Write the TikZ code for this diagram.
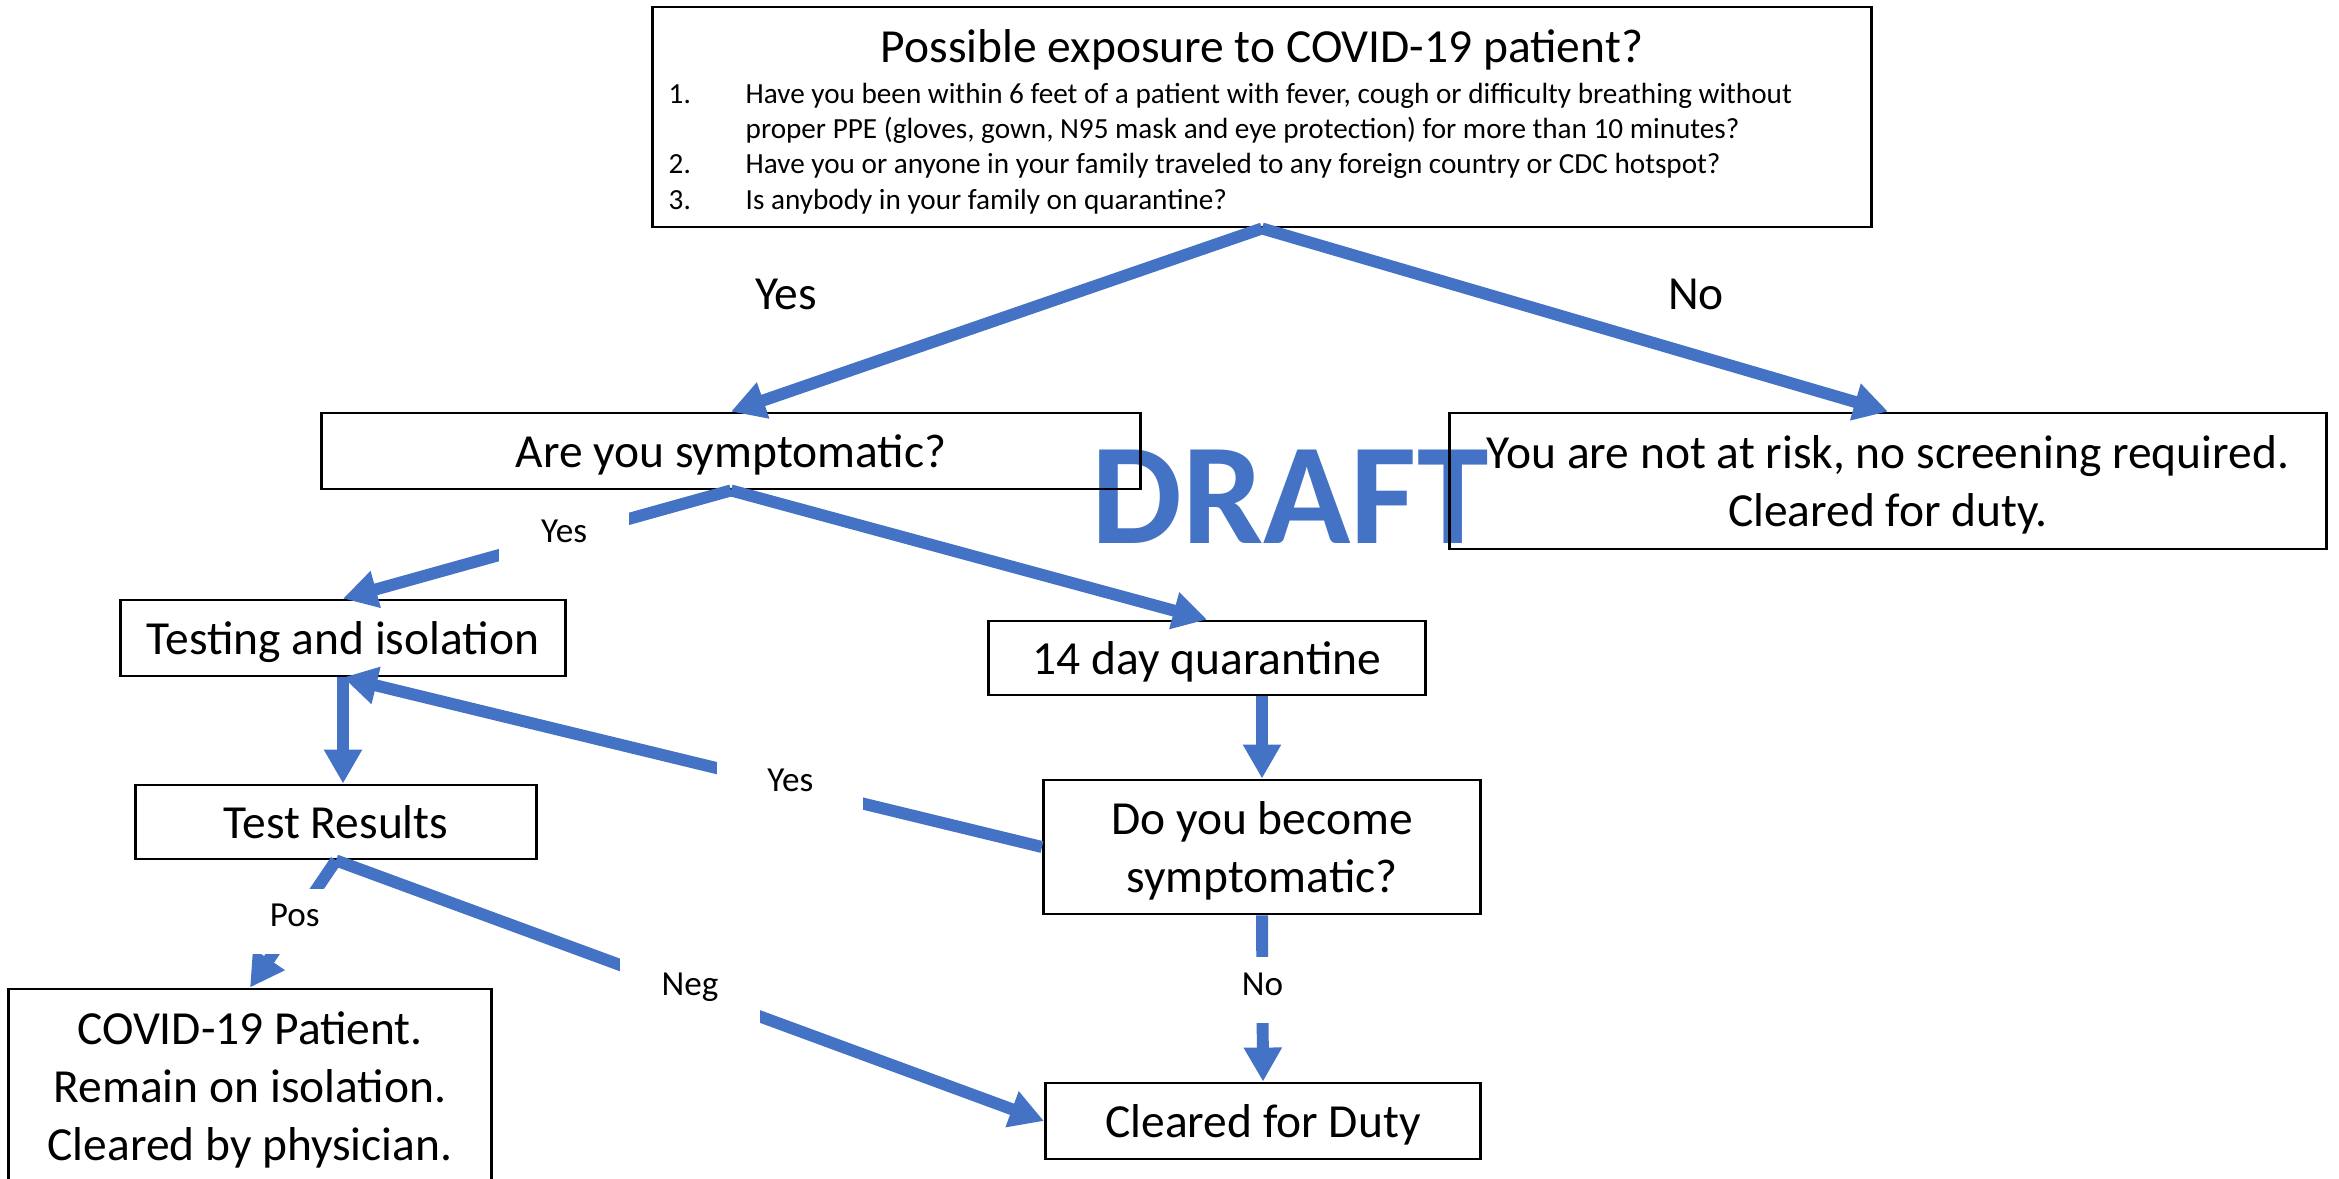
\documentclass[tikz,border=0pt]{standalone}
\usepackage{fontspec}
\setmainfont{Carlito}
\usetikzlibrary{arrows.meta}
\definecolor{flowblue}{HTML}{4472C4}
\tikzset{
  box/.style={draw=black,line width=0.8pt,inner sep=0pt,align=center,
    text depth=0pt,font=\fontsize{13.5}{16.6}\selectfont},
  flow/.style={draw=flowblue,line width=3.4pt,
    -{Triangle[length=3.4mm,width=3.6mm]}},
  lbl/.style={fill=white,inner xsep=0.42cm,inner ysep=0.17cm,
    text height=6pt,text depth=3pt,font=\fontsize{10}{12}\selectfont},
  item/.style={anchor=base west,inner sep=0pt,font=\fontsize{8.3}{10}\selectfont},
}

\begin{document}
\begin{tikzpicture}[x=0.01cm,y=-0.01cm]
\path[use as bounding box,clip] (0,0) rectangle (2339,1179);

% watermark first, boxes drawn over it
\node[text=flowblue,inner sep=0pt,font=\bfseries\fontsize{41}{41}\selectfont] (draft) at (1290,497) {DRAFT};

\node[box,minimum width=12.18cm,minimum height=2.2cm] (expo) at (1262,117) {};
\node[anchor=base,inner sep=0pt,font=\fontsize{13.5}{16}\selectfont] (expotitle) at (1262,63) {Possible exposure to COVID-19 patient?};
\node[item] (n1) at (668,104) {1.};
\node[item] (q1a) at (745,104) {Have you been within 6 feet of a patient with fever, cough or difficulty breathing without};
\node[item] (q1b) at (745,139) {proper PPE (gloves, gown, N95 mask and eye protection) for more than 10 minutes?};
\node[item] (n2) at (668,174) {2.};
\node[item] (q2) at (745,174) {Have you or anyone in your family traveled to any foreign country or CDC hotspot?};
\node[item] (n3) at (668,209) {3.};
\node[item] (q3) at (745,209) {Is anybody in your family on quarantine?};

\node[box,minimum width=8.19cm,minimum height=0.76cm] (sym) at (731,451) {Are you symptomatic?};
\node[box,minimum width=8.76cm,minimum height=1.36cm] (risk) at (1888,481) {You are not at risk, no screening required.\\Cleared for duty.};
\node[box,minimum width=4.44cm,minimum height=0.76cm] (testing) at (343,638) {Testing and isolation};
\node[box,minimum width=4.36cm,minimum height=0.74cm] (quar) at (1207,658) {14 day quarantine};
\node[box,minimum width=4.01cm,minimum height=0.74cm] (results) at (336,822) {Test Results};
\node[box,minimum width=4.37cm,minimum height=1.34cm] (dobe) at (1262,847) {Do you become\\symptomatic?};
\node[box,minimum width=4.82cm,minimum height=1.94cm] (covid) at (250,1086) {COVID-19 Patient.\\Remain on isolation.\\Cleared by physician.};
\node[box,minimum width=4.35cm,minimum height=0.76cm] (cleared) at (1263,1121) {Cleared for Duty};

\node[font=\fontsize{13.5}{16}\selectfont] (yes1) at (786,294) {Yes};
\node[font=\fontsize{13.5}{16}\selectfont] (no1) at (1696,294) {No};

\draw[flow] (expo.south) -- (sym.north);
\draw[flow] (expo.south) -- (risk.north);
\draw[flow] (sym.south) -- node[lbl,pos=.43] (yes2) {Yes} (testing.north);
\draw[flow] (sym.south) -- (quar.north);
\draw[flow] (testing.south) -- (testing.south |- results.north);
\draw[flow] (dobe.north |- quar.south) -- (dobe.north);
\draw[flow] (dobe.west) -- node[lbl,pos=.36,inner xsep=0.5cm] (yes3) {Yes} (testing.south);
\draw[flow] (results.south) -- node[lbl,pos=.48] (pos) {Pos} (covid.north);
\draw[flow] (results.south) -- node[lbl,pos=.5] (neg) {Neg} (cleared.west);
\draw[flow] (dobe.south) -- node[lbl,pos=.45] (no2) {No} (cleared.north);
\end{tikzpicture}
\end{document}
